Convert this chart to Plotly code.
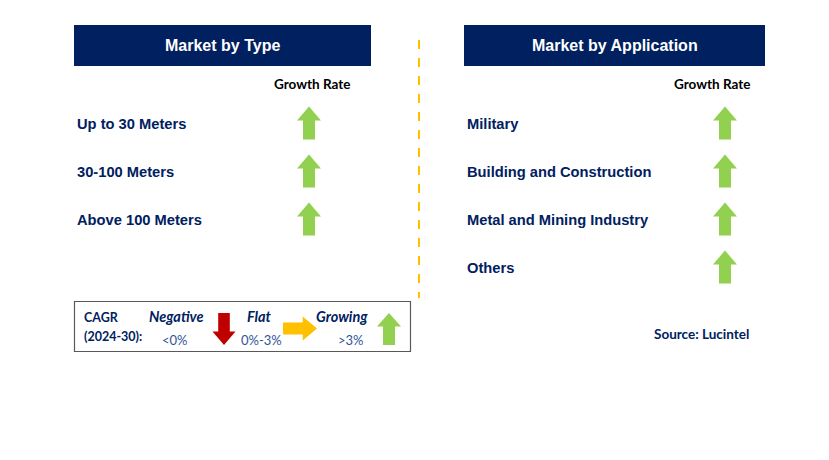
import plotly.graph_objects as go

# ---------------- data ----------------
type_title = "Market by Type"
app_title = "Market by Application"
column_label = "Growth Rate"
types = ["Up to 30 Meters", "30-100 Meters", "Above 100 Meters"]
type_growth = ["Growing", "Growing", "Growing"]
applications = ["Military", "Building and Construction", "Metal and Mining Industry", "Others"]
app_growth = ["Growing", "Growing", "Growing", "Growing"]
cagr_label = ["CAGR", "(2024-30):"]
legend_names = ["Negative", "Flat", "Growing"]
legend_ranges = ["<0%", "0%-3%", ">3%"]
source_text = "Source: Lucintel"

# ---------------- styles ----------------
W, H = 829, 460
OFF = 8  # page body margin
NAVY = "#002060"
GREEN = "#92D050"
RED = "#C00000"
YELLOW = "#FFC000"
ARIAL = "Liberation Sans, Arial, sans-serif"
CAL = "Lato, Open Sans, sans-serif"

arrow_dir = {"Negative": "down", "Flat": "right", "Growing": "up"}
arrow_col = {"Negative": RED, "Flat": YELLOW, "Growing": GREEN}

shapes = []
annotations = []


def arrow_path(cx, cy, w, h, direction, shaft_frac=0.5, head_frac=0.42):
    if direction in ("up", "down"):
        hw, sw = w / 2, w * shaft_frac / 2
        top, bot = cy - h / 2, cy + h / 2
        if direction == "up":
            hb = top + h * head_frac
            pts = [(cx, top), (cx + hw, hb), (cx + sw, hb), (cx + sw, bot),
                   (cx - sw, bot), (cx - sw, hb), (cx - hw, hb)]
        else:
            hb = bot - h * head_frac
            pts = [(cx, bot), (cx + hw, hb), (cx + sw, hb), (cx + sw, top),
                   (cx - sw, top), (cx - sw, hb), (cx - hw, hb)]
    else:
        hh, sh = h / 2, h * shaft_frac / 2
        left, right = cx - w / 2, cx + w / 2
        hb = right - w * head_frac
        pts = [(right, cy), (hb, cy - hh), (hb, cy - sh), (left, cy - sh),
               (left, cy + sh), (hb, cy + sh), (hb, cy + hh)]
    return "M " + " L ".join(f"{x:.1f},{y:.1f}" for x, y in pts) + " Z"


def add_arrow(cx, cy, w, h, kind, shaft_frac=0.5, head_frac=0.42):
    shapes.append(dict(type="path", xref="x", yref="y",
                       path=arrow_path(cx, cy, w, h, arrow_dir[kind], shaft_frac, head_frac),
                       fillcolor=arrow_col[kind], line=dict(width=0)))


def text(x, y, s, size, color=NAVY, family=ARIAL, bold=True, italic=False, xanchor="left"):
    t = s
    if bold:
        t = f"<b>{t}</b>"
    if italic:
        t = f"<i>{t}</i>"
    annotations.append(dict(x=x, y=y, xref="x", yref="y", text=t, showarrow=False,
                            xanchor=xanchor, yanchor="middle",
                            font=dict(size=size, color=color, family=family)))


def panel(x0, x1, title, cats, growth, arrow_x, label_x):
    shapes.append(dict(type="rect", xref="x", yref="y", x0=x0, x1=x1, y0=25, y1=66,
                       fillcolor=NAVY, line=dict(width=0)))
    text((x0 + x1) / 2, 45.5, title, 16, color="white", xanchor="center")
    text(label_x, 84, column_label, 13.5, color="black", family=CAL, xanchor="center")
    for i, (c, g) in enumerate(zip(cats, growth)):
        y = 124 + 48 * i
        text(x0 + 1, y, c, 14.7)
        add_arrow(arrow_x, y - 1, 24, 33, g)


panel(74, 371, type_title, types, type_growth, 309, 312)
panel(464, 765, app_title, applications, app_growth, 725, 712)

# dashed divider
shapes.append(dict(type="line", xref="x", yref="y", x0=419, x1=419, y0=40, y1=298,
                   line=dict(color=YELLOW, width=2, dash="dash")))

# CAGR legend box
shapes.append(dict(type="rect", xref="x", yref="y", x0=74.5, x1=410.5, y0=301.5, y1=351.5,
                   fillcolor="white", line=dict(color="#595959", width=1.2)))
text(82, 317, cagr_label[0], 12.5, family=CAL)
text(82, 336, cagr_label[1], 12.5, family=CAL)
name_x = [176, 259, 342]
range_x = [175, 261, 351]
arrow_specs = {"Negative": (224, 329, 23, 32), "Flat": (300, 328.5, 34, 24), "Growing": (389, 329, 24, 32)}
for nm, rg, nx, rx in zip(legend_names, legend_ranges, name_x, range_x):
    text(nx, 316, nm, 14.5, family=CAL, italic=True, xanchor="center")
    text(rx, 339.5, rg, 13, color="#2F5597", family=CAL, bold=False, xanchor="center")
    cx, cy, w, h = arrow_specs[nm]
    add_arrow(cx, cy, w, h, nm)

text(701, 334, source_text, 13.5, family=CAL, xanchor="center")

fig = go.Figure()
fig.add_trace(go.Scatter(x=[OFF, W + OFF], y=[OFF, H + OFF], mode="markers", marker=dict(opacity=0),
                         hoverinfo="skip", showlegend=False))
fig.update_layout(
    width=W, height=H, margin=dict(l=0, r=0, t=0, b=0),
    paper_bgcolor="white", plot_bgcolor="white",
    xaxis=dict(range=[OFF, W + OFF], visible=False, fixedrange=True),
    yaxis=dict(range=[H + OFF, OFF], visible=False, fixedrange=True),
    shapes=shapes, annotations=annotations, showlegend=False,
)
fig.write_html("out.html")
